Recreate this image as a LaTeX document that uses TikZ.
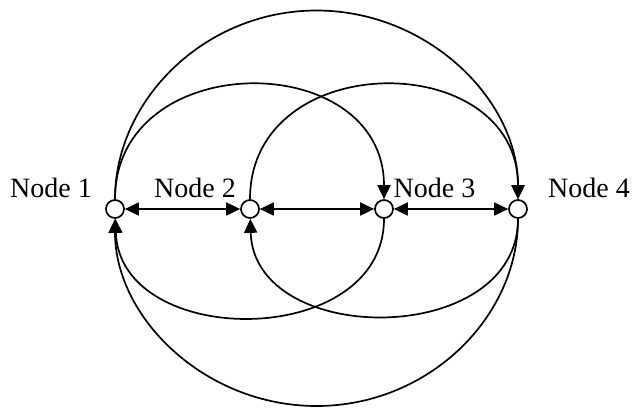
\documentclass[tikz,border=0pt]{standalone}
\usepackage{fontspec}
\setmainfont{Liberation Serif}
\usetikzlibrary{arrows.meta}
\begin{document}
\begin{tikzpicture}[x=1pt,y=-1pt,
  vtx/.style={circle,draw,fill=white,line width=1.7pt,minimum size=18pt,inner sep=0pt},
  lbl/.style={font=\fontsize{28}{30}\selectfont,anchor=base,inner sep=0pt},
  conn/.style={line width=1.7pt,-{Triangle[length=14pt,width=13pt]}},
  both/.style={line width=1.7pt,{Triangle[length=14pt,width=13pt]}-{Triangle[length=14pt,width=13pt]}}]
\useasboundingbox (0,0) rectangle (634,408);
\node[vtx] (n1) at (115,209) {};
\node[vtx] (n2) at (250,209) {};
\node[vtx] (n3) at (384,209) {};
\node[vtx] (n4) at (518,209) {};
\node[lbl] (t1) at (51,197) {Node 1};
\node[lbl] (t2) at (195,197) {Node 2};
\node[lbl] (t3) at (434.5,197) {Node 3};
\node[lbl] (t4) at (589,197) {Node 4};
\coordinate (top) at (316.5,10.5);
\coordinate (bot) at (316.5,406);
% outer loop
\draw[conn] (n1) .. controls (115,99.6) and (205.2,10.5) .. (top) .. controls (427.8,10.5) and (518,99.6) .. (n4);
\draw[conn] (n4) .. controls (518,318.1) and (427.8,406) .. (bot) .. controls (205.2,406) and (115,318.1) .. (n1);
% inner arcs
\draw[conn] (n1) .. controls (115,47) and (384,47) .. (n3);
\draw[conn] (n2) .. controls (250,47) and (518,47) .. (n4);
\draw[conn] (n3) .. controls (384,350) and (120,350) .. (n1);
\draw[conn] (n4) .. controls (518,348) and (254,348) .. (n2);
% straight double arrows
\draw[both] (n1) -- (n2);
\draw[both] (n2) -- (n3);
\draw[both] (n3) -- (n4);
\end{tikzpicture}
\end{document}
